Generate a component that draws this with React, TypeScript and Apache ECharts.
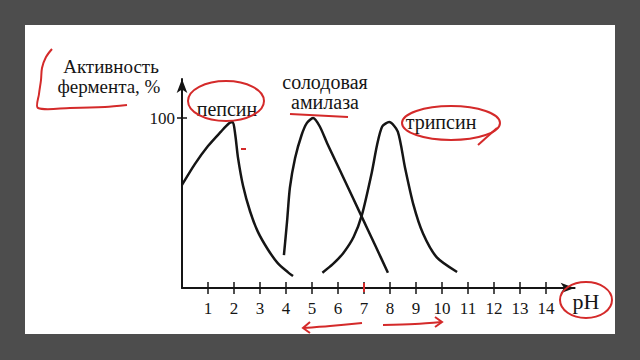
import React, { useEffect, useRef } from "react";
import * as echarts from "echarts";

// pH tick labels
const phTicks = [1, 2, 3, 4, 5, 6, 7, 8, 9, 10, 11, 12, 13, 14];
const yTicks = [100];

// Pepsin curve (pH, activity %)
const pepsinPH = [0, 0.5, 1, 1.5, 1.8, 1.95, 2.05, 2.15, 2.35, 2.62, 2.92, 3.31, 3.69, 4.08, 4.27];
const pepsinVal = [60.6, 73, 83.5, 92, 96.8, 97.6, 90, 77, 60, 45, 33, 22.5, 14.5, 9.2, 7];

// Malt amylase curve
const amylasePH = [3.92, 4.04, 4.15, 4.35, 4.6, 4.8, 5.04, 5.3, 5.6, 6.15, 6.92, 7.42, 7.92];
const amylaseVal = [19.4, 39, 59, 76.5, 90, 97, 100, 95, 84.5, 66.8, 41.7, 25.4, 9];

// Trypsin curve
const trypsinPH = [5.4, 5.8, 6.2, 6.6, 6.92, 7.3, 7.5, 7.7, 7.97, 8.3, 8.58, 8.9, 9.27, 9.8, 10.58];
const trypsinVal = [9, 14, 20.5, 30, 43, 68, 84, 95, 97.6, 92, 70.6, 49, 32, 18, 9.4];

const FONT = "Liberation Serif, DejaVu Serif, serif";
const INK = "#151515";
const RED = "#d42a2a";

const pairs = (xs: number[], ys: number[]) => xs.map((x, i) => [x, ys[i]]);

export default function App() {
  const ref = useRef<HTMLDivElement>(null);
  useEffect(() => {
    if (!ref.current) return;
    const chart = echarts.init(ref.current, undefined, { renderer: "svg" });
    const curve = (name: string, data: number[][]) => ({
      type: "line",
      name,
      data,
      xAxisIndex: 0,
      yAxisIndex: 0,
      smooth: 0.25,
      symbol: "none",
      lineStyle: { color: INK, width: 2.5 },
    });
    const txt = (text: string, x: number, y: number, size: number) => ({
      type: "text",
      z: 20,
      style: {
        text,
        x,
        y,
        fill: INK,
        fontFamily: FONT,
        fontSize: size,
        align: "center",
        verticalAlign: "middle",
      },
    });
    const redStroke = { stroke: RED, lineWidth: 2, fill: "none" };
    chart.setOption({
      animation: false,
      backgroundColor: "#4d4d4d",
      grid: { left: 182, right: 65.4, top: 78.9, bottom: 72 },
      xAxis: [
        {
          type: "value",
          min: 0,
          max: 15.1,
          splitLine: { show: false },
          axisLine: {
            show: true,
            onZero: false,
            symbol: ["none", "arrow"],
            symbolSize: [8, 14],
            lineStyle: { color: INK, width: 2 },
          },
          axisTick: { show: true, customValues: phTicks, length: 6, lineStyle: { color: INK, width: 1.5 } },
          axisLabel: {
            customValues: phTicks,
            margin: 12,
            color: INK,
            fontFamily: FONT,
            fontSize: 17,
          },
        },
        {
          type: "value",
          min: 0,
          max: 15.1,
          position: "bottom",
          splitLine: { show: false },
          axisLine: { show: false },
          axisTick: { show: true, inside: true, customValues: phTicks, length: 6, lineStyle: { color: INK, width: 1.5 } },
          axisLabel: { show: false },
        },
      ],
      yAxis: [
        {
          type: "value",
          min: 0,
          max: 123,
          splitLine: { show: false },
          axisLine: {
            show: true,
            onZero: false,
            symbol: ["none", "arrow"],
            symbolSize: [8, 14],
            lineStyle: { color: INK, width: 2 },
          },
          axisTick: { show: true, customValues: yTicks, length: 5, lineStyle: { color: INK, width: 1.5 } },
          axisLabel: {
            customValues: yTicks,
            margin: 7,
            color: INK,
            fontFamily: FONT,
            fontSize: 17,
          },
        },
        {
          type: "value",
          min: 0,
          max: 123,
          position: "left",
          splitLine: { show: false },
          axisLine: { show: false },
          axisTick: { show: true, inside: true, customValues: yTicks, length: 5, lineStyle: { color: INK, width: 1.5 } },
          axisLabel: { show: false },
        },
      ],
      series: [
        curve("пепсин", pairs(pepsinPH, pepsinVal)),
        curve("солодовая амилаза", pairs(amylasePH, amylaseVal)),
        curve("трипсин", pairs(trypsinPH, trypsinVal)),
      ],
      graphic: [
        { type: "rect", z: -10, shape: { x: 25, y: 25, width: 590, height: 309 }, style: { fill: "#ffffff" } },
        txt("Активность", 111, 66, 19),
        txt("фермента, %", 109, 86, 19),
        txt("пепсин", 227, 109, 20),
        txt("солодовая", 325, 82, 20),
        txt("амилаза", 325, 102, 20),
        txt("трипсин", 441, 122, 20),
        txt("pH", 586, 301, 22),
        // red hand-drawn annotations
        {
          type: "polyline",
          z: 30,
          shape: {
            points: [[52, 49], [46, 57], [42, 68], [41, 80], [39, 94], [38, 108], [70, 108], [105, 107], [127, 105]],
            smooth: 0.3,
          },
          style: redStroke,
        },
        { type: "ellipse", z: 30, shape: { cx: 226, cy: 101, rx: 38, ry: 20 }, style: redStroke },
        { type: "line", z: 30, shape: { x1: 290, y1: 114, x2: 348, y2: 117 }, style: redStroke },
        { type: "ellipse", z: 30, shape: { cx: 451, cy: 123, rx: 49, ry: 17 }, style: redStroke },
        { type: "line", z: 30, shape: { x1: 497, y1: 128, x2: 478, y2: 145 }, style: redStroke },
        { type: "ellipse", z: 30, shape: { cx: 586, cy: 300, rx: 26, ry: 18 }, style: redStroke },
        { type: "line", z: 30, shape: { x1: 364, y1: 283, x2: 364, y2: 292 }, style: redStroke },
        { type: "line", z: 30, shape: { x1: 241, y1: 149, x2: 246, y2: 149 }, style: redStroke },
        {
          type: "polyline",
          z: 30,
          shape: { points: [[362, 323], [330, 326], [303, 328]], smooth: 0.3 },
          style: redStroke,
        },
        { type: "polyline", z: 30, shape: { points: [[310, 322], [303, 328], [310, 333]] }, style: redStroke },
        {
          type: "polyline",
          z: 30,
          shape: { points: [[383, 325], [415, 324], [442, 322]], smooth: 0.3 },
          style: redStroke,
        },
        { type: "polyline", z: 30, shape: { points: [[435, 317], [442, 322], [435, 327]] }, style: redStroke },
      ],
    });
    return () => chart.dispose();
  }, []);
  return (
    <div
      ref={ref}
      style={{ position: "fixed", left: 0, top: 0, width: 640, height: 360 }}
    />
  );
}
